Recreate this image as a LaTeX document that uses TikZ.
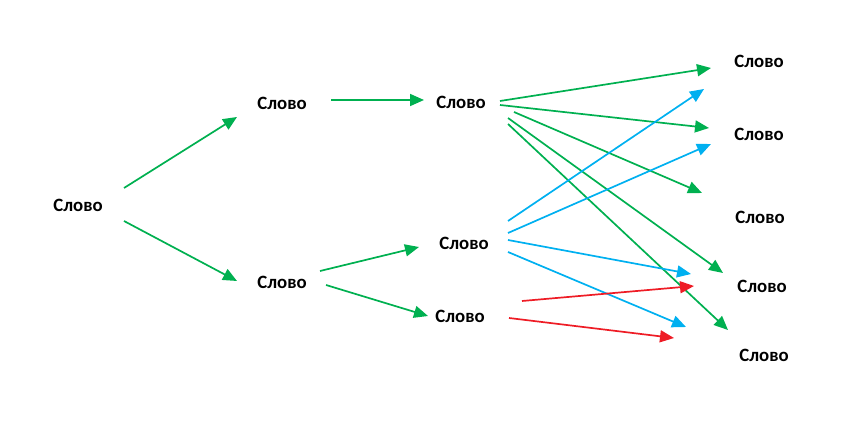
\documentclass[tikz,border=0pt]{standalone}
\usepackage{fontspec}
\setmainfont{Carlito}
\usepackage{tikz}
\usetikzlibrary{arrows.meta}
\usepackage{xcolor}
\definecolor{grn}{HTML}{00B050}
\definecolor{blu}{HTML}{00B0F0}
\definecolor{rd}{HTML}{EE1C25}

\tikzset{
  word/.style={font=\bfseries\fontsize{18.8}{20}\selectfont, inner sep=2pt},
  link/.style={line width=1.7pt, -{Triangle[length=14pt,width=12pt]}},
}

\begin{document}
\begin{tikzpicture}[x=1pt, y=-1pt]
  \useasboundingbox (0,0) rectangle (848,427);
  % words
  \node[word] (a)  at (78,205)  {Слово};
  \node[word] (b1) at (282,103) {Слово};
  \node[word] (b2) at (282,282) {Слово};
  \node[word] (c1) at (461,102) {Слово};
  \node[word] (c2) at (464,243) {Слово};
  \node[word] (c3) at (460,316) {Слово};
  \node[word] (d1) at (759,61)  {Слово};
  \node[word] (d2) at (759,134) {Слово};
  \node[word] (d3) at (760,217) {Слово};
  \node[word] (d4) at (762,286) {Слово};
  \node[word] (d5) at (764,355) {Слово};

  % green
  \draw[link, grn] ([shift={(46,-17)}]a.center) -- ([shift={(-45,14)}]b1.center);
  \draw[link, grn] ([shift={(46,16)}]a.center) -- ([shift={(-45,-1)}]b2.center);
  \draw[link, grn] ([shift={(49,-3)}]b1.center) -- ([shift={(-37,-2)}]c1.center);
  \draw[link, grn] ([shift={(38,-11)}]b2.center) -- ([shift={(-45,4)}]c2.center);
  \draw[link, grn] ([shift={(44,3)}]b2.center) -- ([shift={(-32,0)}]c3.center);
  \draw[link, grn] ([shift={(39,-1)}]c1.center) -- ([shift={(-48,7)}]d1.center);
  \draw[link, grn] ([shift={(39,3)}]c1.center) -- ([shift={(-50,-6)}]d2.center);
  \draw[link, grn] ([shift={(53,10)}]c1.center) -- ([shift={(-58,-24)}]d3.center);
  \draw[link, grn] ([shift={(47,16)}]c1.center) -- ([shift={(-39,-13)}]d4.center);
  \draw[link, grn] ([shift={(47,22)}]c1.center) -- ([shift={(-36,-25)}]d5.center);

  % blue
  \draw[link, blu] ([shift={(44,-22)}]c2.center) -- ([shift={(-55,28)}]d1.center);
  \draw[link, blu] ([shift={(44,-10)}]c2.center) -- ([shift={(-48,10)}]d2.center);
  \draw[link, blu] ([shift={(44,-3)}]c2.center) -- ([shift={(-71,-12)}]d4.center);
  \draw[link, blu] ([shift={(44,9)}]c2.center) -- ([shift={(-78,-28)}]d5.center);

  % red
  \draw[link, rd] ([shift={(62,-15)}]c3.center) -- ([shift={(-68,0)}]d4.center);
  \draw[link, rd] ([shift={(49,2)}]c3.center) -- ([shift={(-90,-17)}]d5.center);
\end{tikzpicture}
\end{document}
